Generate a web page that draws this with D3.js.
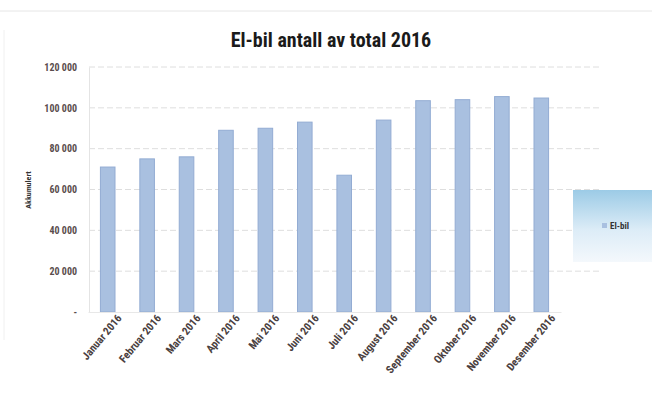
<!DOCTYPE html>
<html>
<head>
<meta charset="utf-8">
<script src="https://cdn.jsdelivr.net/npm/d3@7"></script>
<style>
  body { margin: 0; background: #fff; }
  svg text { font-family: "Liberation Sans Narrow", "Roboto Condensed", "Liberation Sans", sans-serif; }
</style>
</head>
<body>
<script>
;(function() {

  // months and values
  var months = ["Januar 2016", "Februar 2016", "Mars 2016", "April 2016", "Mai 2016", "Juni 2016",
                "Juli 2016", "August 2016", "September 2016", "Oktober 2016", "November 2016", "Desember 2016"];
  var elbil = [71000, 75000, 76000, 89000, 90000, 93000, 67000, 94000, 103500, 104000, 105500, 104800];
  var yTicks = [0, 20000, 40000, 60000, 80000, 100000, 120000];

  var width = 652, height = 403;

  var svg = d3.select("body").append("svg")
    .attr("width", width)
    .attr("height", height);

  var defs = svg.append("defs");
  var grad = defs.append("linearGradient").attr("id", "legendGrad")
    .attr("x1", 0).attr("y1", 0).attr("x2", 0).attr("y2", 1);
  grad.append("stop").attr("offset", "0%").attr("stop-color", "#9ccbe6");
  grad.append("stop").attr("offset", "55%").attr("stop-color", "#dcecf7");
  grad.append("stop").attr("offset", "100%").attr("stop-color", "#f4f8fc");

  // faint scan edges
  svg.append("line").attr("x1", 0).attr("x2", width).attr("y1", 11).attr("y2", 11)
    .attr("stroke", "#e6e6e6").attr("stroke-width", 1);
  svg.append("line").attr("x1", 4).attr("x2", 4).attr("y1", 30).attr("y2", 340)
    .attr("stroke", "#f0f0f0").attr("stroke-width", 1);

  var x = d3.scaleBand()
    .domain(months)
    .range([88, 561])
    .paddingInner(0.63)
    .paddingOuter(0.315);

  var y = d3.scaleLinear()
    .domain([0, 120000])
    .range([312, 67]);

  // gridlines
  svg.append("g").selectAll("line")
    .data(yTicks.filter(function(d) { return d > 0; }))
    .enter().append("line")
    .attr("x1", 89).attr("x2", 600)
    .attr("y1", function(d) { return y(d); })
    .attr("y2", function(d) { return y(d); })
    .attr("stroke", "#dedede")
    .attr("stroke-dasharray", "6,3")
    .attr("stroke-width", 1);

  // y axis
  var yaxis = d3.axisLeft(y)
    .tickValues(yTicks)
    .tickSize(0)
    .tickPadding(12)
    .tickFormat(function(d) { return d === 0 ? "-" : d3.format(",")(d).replace(/,/g, " "); });

  var ya = svg.append("g")
    .attr("transform", "translate(89,0)")
    .call(yaxis);
  ya.select(".domain").attr("stroke", "#e4e4e4");
  ya.selectAll("text").attr("fill", "#5a4d4d").style("font-size", "10px").style("font-weight", "bold");

  // bars
  svg.append("g").selectAll("rect")
    .data(elbil)
    .enter().append("rect")
    .attr("x", function(d, i) { return x(months[i]); })
    .attr("y", function(d) { return y(d); })
    .attr("width", x.bandwidth())
    .attr("height", function(d) { return y(0) - y(d); })
    .attr("fill", "#a9c0e0")
    .attr("stroke", "#93acd3")
    .attr("stroke-width", 1);

  // x axis
  var xaxis = d3.axisBottom(x).tickSize(0).tickPadding(10);
  var xa = svg.append("g")
    .attr("transform", "translate(0,312)")
    .call(xaxis);
  xa.select(".domain").attr("stroke", "#e8e8e8");
  xa.selectAll("text")
    .attr("fill", "#4a4040")
    .style("font-size", "11px")
    .style("font-weight", "bold")
    .attr("text-anchor", "end")
    .attr("dx", "0.4em")
    .attr("dy", "0.5em")
    .attr("transform", "rotate(-50)");

  // title
  svg.append("text")
    .attr("x", 331).attr("y", 47)
    .attr("text-anchor", "middle")
    .attr("fill", "#1a1a1a")
    .style("font-size", "20px")
    .style("font-weight", "bold")
    .text("El-bil antall av total 2016");

  // y label
  svg.append("text")
    .attr("transform", "translate(31,190) rotate(-90)")
    .attr("text-anchor", "middle")
    .attr("fill", "#333")
    .style("font-size", "8px")
    .style("font-weight", "bold")
    .text("Akkumulert");

  // legend
  var lg = svg.append("g").attr("transform", "translate(573,190)");
  lg.append("rect").attr("width", 82).attr("height", 72)
    .attr("fill", "url(#legendGrad)");
  lg.append("rect").attr("x", 29).attr("y", 33).attr("width", 5).attr("height", 5)
    .attr("fill", "#a9c0e0");
  lg.append("text").attr("x", 37).attr("y", 39)
    .attr("fill", "#333").style("font-size", "9px").style("font-weight", "bold")
    .text("El-bil");

})();
</script>
</body>
</html>
